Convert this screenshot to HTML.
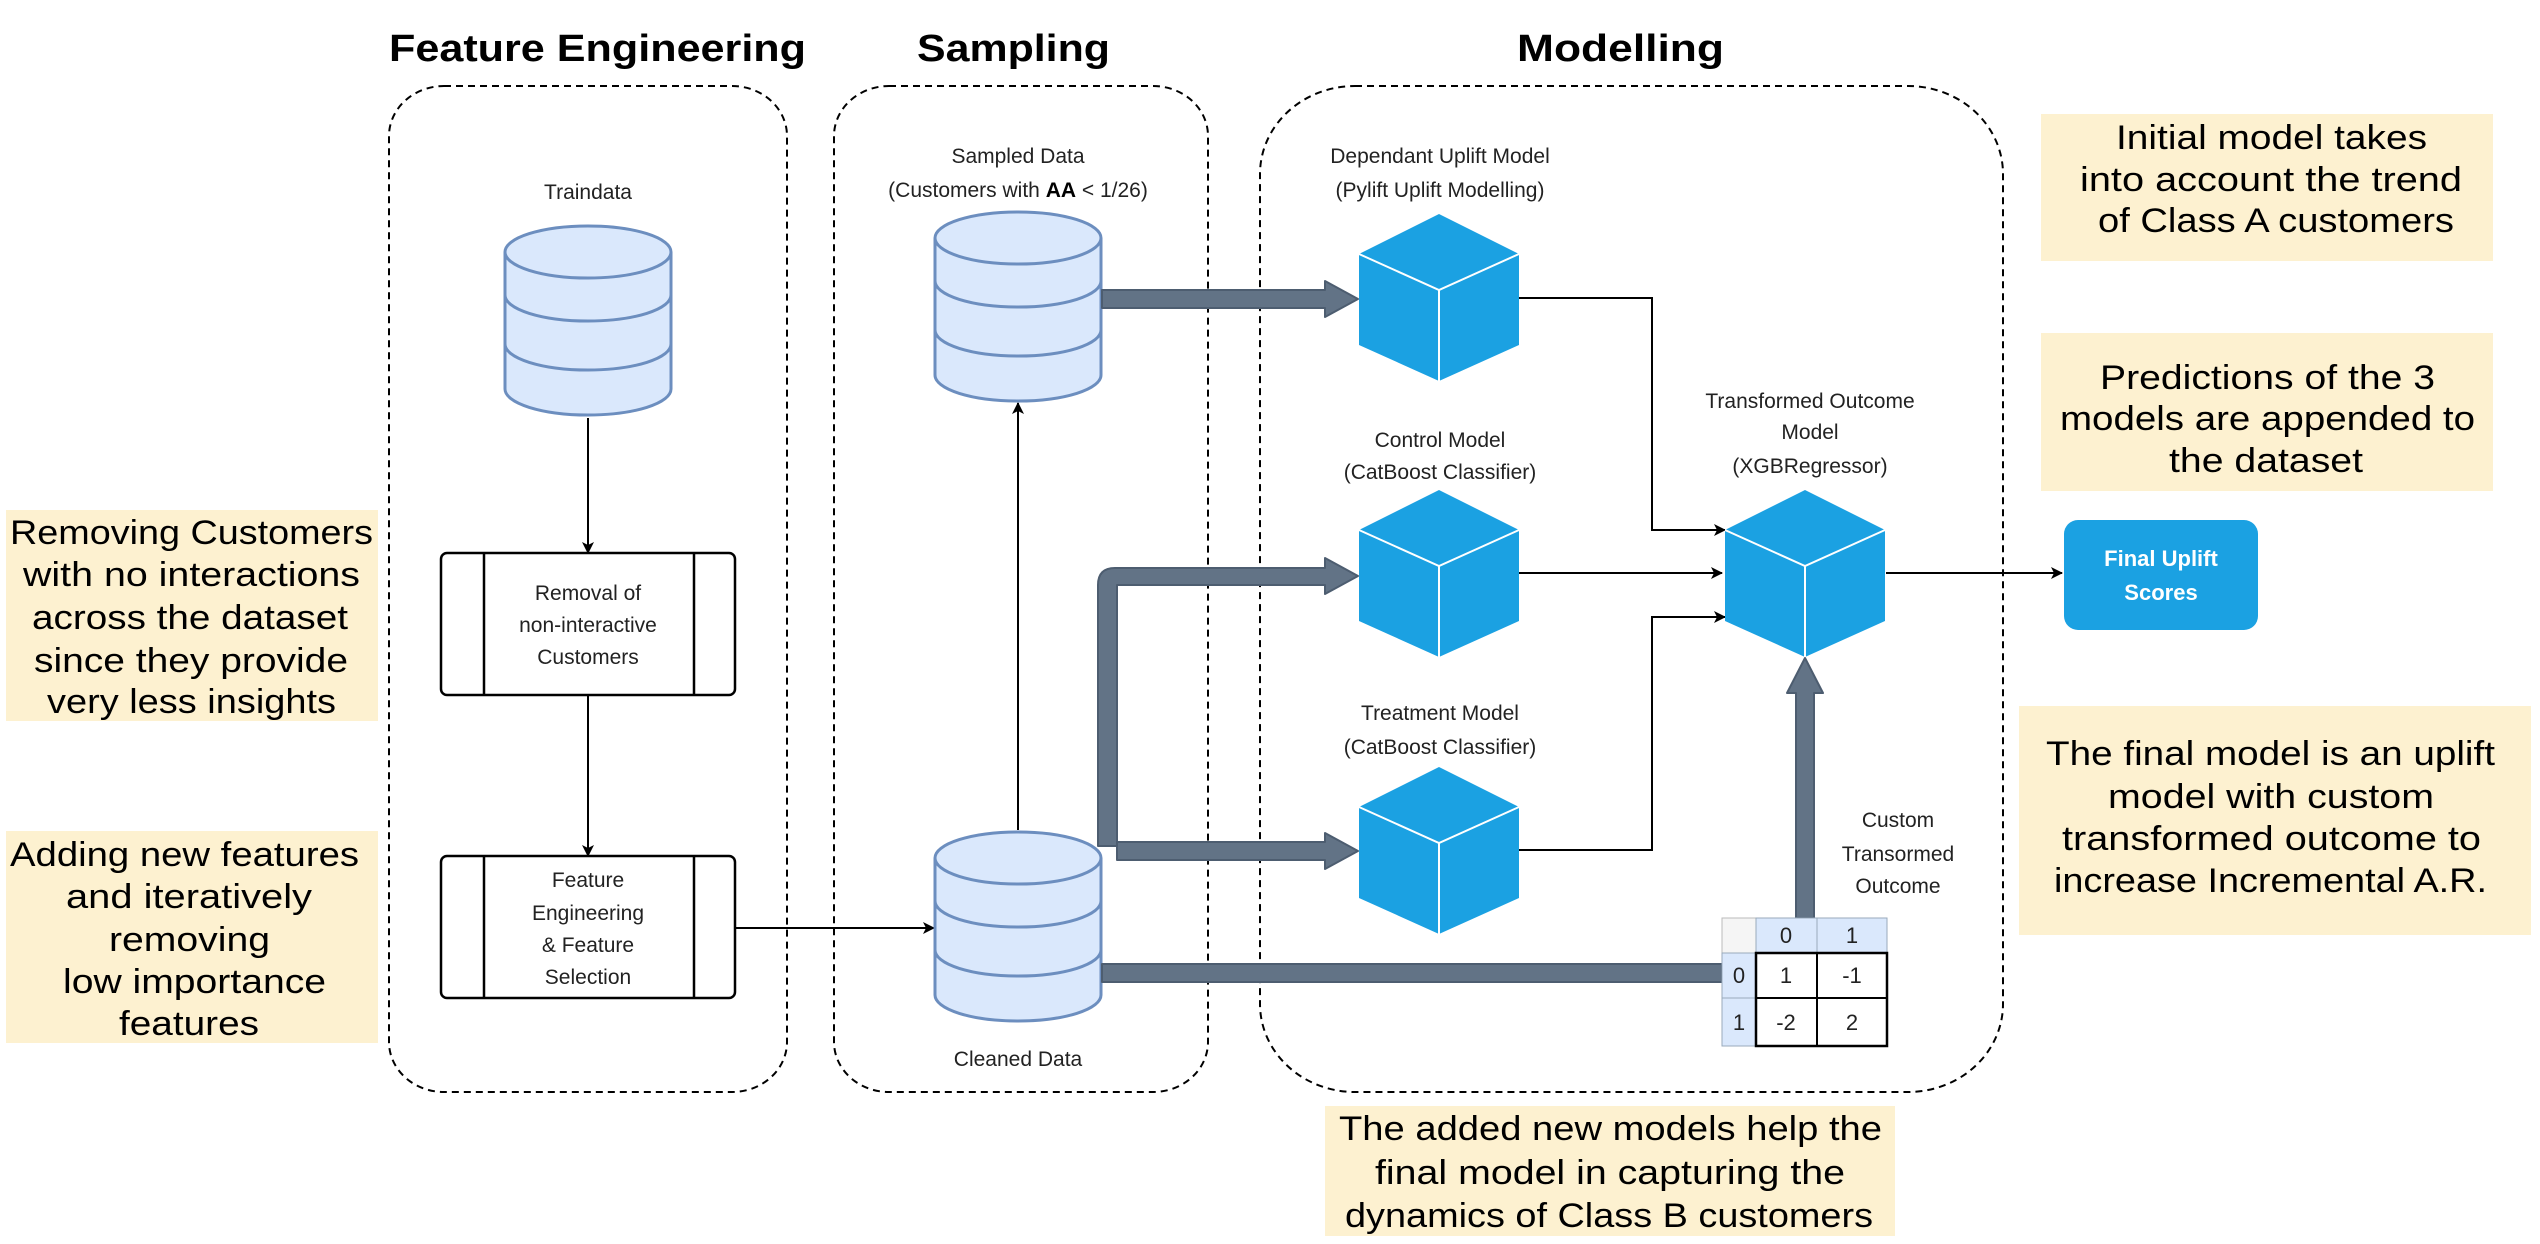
<!DOCTYPE html>
<html><head><meta charset="utf-8"><style>html,body{margin:0;padding:0;background:#fff}svg{display:block}</style></head>
<body>
<svg width="2540" height="1244" viewBox="0 0 2540 1244" xmlns="http://www.w3.org/2000/svg">
<defs>
<marker id="ah" markerWidth="12" markerHeight="12" refX="11" refY="6" orient="auto" markerUnits="userSpaceOnUse"><path d="M0,0 L12,6 L0,12 L3,6 Z" fill="#000"/></marker>
</defs>
<g font-family="Liberation Sans, Arial, sans-serif" font-weight="bold" font-size="38" fill="#000">
<text x="389" y="61" textLength="417" lengthAdjust="spacingAndGlyphs">Feature Engineering</text>
<text x="917" y="61" textLength="193" lengthAdjust="spacingAndGlyphs">Sampling</text>
<text x="1517" y="61" textLength="207" lengthAdjust="spacingAndGlyphs">Modelling</text>
</g>
<g fill="none" stroke="#000" stroke-width="2" stroke-dasharray="7 5">
<rect x="389" y="86" width="398" height="1006" rx="55" ry="50"/>
<rect x="834" y="86" width="374" height="1006" rx="55" ry="50"/>
<rect x="1260" y="86" width="743" height="1006" rx="95" ry="88"/>
</g>
<!-- yellow notes -->
<g fill="#fdf1d0">
<rect x="6" y="510" width="372" height="211"/>
<rect x="6" y="831" width="372" height="212"/>
<rect x="2041" y="114" width="452" height="147"/>
<rect x="2041" y="333" width="452" height="158"/>
<rect x="2019" y="706" width="512" height="229"/>
<rect x="1325" y="1106" width="570" height="130"/>
</g>
<g font-family="Liberation Sans, Arial, sans-serif" font-size="34" fill="#000" lengthAdjust="spacingAndGlyphs">
<text x="10" y="544" textLength="363" lengthAdjust="spacingAndGlyphs">Removing Customers</text>
<text x="23" y="586" textLength="337" lengthAdjust="spacingAndGlyphs">with no interactions</text>
<text x="32" y="629" textLength="316" lengthAdjust="spacingAndGlyphs">across the dataset</text>
<text x="34" y="672" textLength="314" lengthAdjust="spacingAndGlyphs">since they provide</text>
<text x="47" y="713" textLength="289" lengthAdjust="spacingAndGlyphs">very less insights</text>
<text x="10" y="866" textLength="349" lengthAdjust="spacingAndGlyphs">Adding new features</text>
<text x="66" y="908" textLength="246" lengthAdjust="spacingAndGlyphs">and iteratively</text>
<text x="109" y="951" textLength="161" lengthAdjust="spacingAndGlyphs">removing</text>
<text x="63" y="993" textLength="263" lengthAdjust="spacingAndGlyphs">low importance</text>
<text x="119" y="1035" textLength="140" lengthAdjust="spacingAndGlyphs">features</text>
<text x="2116" y="149" textLength="311" lengthAdjust="spacingAndGlyphs">Initial model takes</text>
<text x="2080" y="191" textLength="382" lengthAdjust="spacingAndGlyphs">into account the trend</text>
<text x="2098" y="232" textLength="356" lengthAdjust="spacingAndGlyphs">of Class A customers</text>
<text x="2100" y="389" textLength="335" lengthAdjust="spacingAndGlyphs">Predictions of the 3</text>
<text x="2060" y="430" textLength="415" lengthAdjust="spacingAndGlyphs">models are appended to</text>
<text x="2169" y="472" textLength="194" lengthAdjust="spacingAndGlyphs">the dataset</text>
<text x="2046" y="765" textLength="449" lengthAdjust="spacingAndGlyphs">The final model is an uplift</text>
<text x="2108" y="808" textLength="326" lengthAdjust="spacingAndGlyphs">model with custom</text>
<text x="2062" y="850" textLength="419" lengthAdjust="spacingAndGlyphs">transformed outcome to</text>
<text x="2054" y="892" textLength="433" lengthAdjust="spacingAndGlyphs">increase Incremental A.R.</text>
<text x="1339" y="1140" textLength="543" lengthAdjust="spacingAndGlyphs">The added new models help the</text>
<text x="1375" y="1184" textLength="470" lengthAdjust="spacingAndGlyphs">final model in capturing the</text>
<text x="1345" y="1227" textLength="528" lengthAdjust="spacingAndGlyphs">dynamics of Class B customers</text>
</g>
<!-- thin connectors -->
<g stroke="#000" stroke-width="2" fill="none" marker-end="url(#ah)">
<line x1="588" y1="418" x2="588" y2="553"/>
<line x1="588" y1="695" x2="588" y2="856"/>
<line x1="735" y1="928" x2="934" y2="928"/>
<line x1="1018" y1="830" x2="1018" y2="403"/>
<polyline points="1519,298 1652,298 1652,530 1725,530"/>
<line x1="1519" y1="573" x2="1722" y2="573"/>
<polyline points="1519,850 1652,850 1652,617 1725,617"/>
<line x1="1886" y1="573" x2="2062" y2="573"/>
</g>
<!-- cylinders -->
<g fill="#dae8fc" stroke="#6c8ebf" stroke-width="3">
<g id="cyl1">
<path d="M505,252 L505,389 A83,26 0 0 0 671,389 L671,252 A83,26 0 0 0 505,252 Z"/>
<path d="M505,252 A83,26 0 0 0 671,252" fill="none"/>
<path d="M505,295 A83,26 0 0 0 671,295" fill="none"/>
<path d="M505,344 A83,26 0 0 0 671,344" fill="none"/>
</g>
<g transform="translate(430,-14)">
<path d="M505,252 L505,389 A83,26 0 0 0 671,389 L671,252 A83,26 0 0 0 505,252 Z"/>
<path d="M505,252 A83,26 0 0 0 671,252" fill="none"/>
<path d="M505,295 A83,26 0 0 0 671,295" fill="none"/>
<path d="M505,344 A83,26 0 0 0 671,344" fill="none"/>
</g>
<g transform="translate(430,606)">
<path d="M505,252 L505,389 A83,26 0 0 0 671,389 L671,252 A83,26 0 0 0 505,252 Z"/>
<path d="M505,252 A83,26 0 0 0 671,252" fill="none"/>
<path d="M505,295 A83,26 0 0 0 671,295" fill="none"/>
<path d="M505,344 A83,26 0 0 0 671,344" fill="none"/>
</g>
</g>
<!-- process boxes -->
<g fill="#fff" stroke="#000" stroke-width="2.5">
<rect x="441" y="553" width="294" height="142" rx="6"/>
<line x1="484" y1="553" x2="484" y2="695"/><line x1="694" y1="553" x2="694" y2="695"/>
<rect x="441" y="856" width="294" height="142" rx="6"/>
<line x1="484" y1="856" x2="484" y2="998"/><line x1="694" y1="856" x2="694" y2="998"/>
</g>
<!-- thick arrows -->
<g fill="#627386" stroke="#4d5d70" stroke-width="2" stroke-linejoin="round">
<path d="M1102,290 L1325,290 L1325,281 L1358,299 L1325,317 L1325,308 L1102,308 Z"/>
<path d="M1102,846 L1098,846 L1098,585 Q1098,568 1115,568 L1325,568 L1325,558 L1358,576 L1325,594 L1325,585 L1117,585 L1117,846 L1102,846 Z"/>
<path d="M1117,842 L1325,842 L1325,833 L1358,851 L1325,869 L1325,860 L1117,860 Z"/>
<path d="M1102,964 L1722,964 L1722,982 L1102,982 Z"/>
<path d="M1796,918 L1796,693 L1787,693 L1805,658 L1823,693 L1814,693 L1814,918 Z"/>
</g>
<!-- cubes -->
<g id="cubes">
<g>
<path d="M1439,214 L1519,254 L1519,345 L1439,381 L1359,345 L1359,254 Z" fill="#1ba1e2"/>
<path d="M1359,254 L1439,290 L1519,254 M1439,290 L1439,381" stroke="#fff" stroke-width="2" fill="none"/>
</g>
<g transform="translate(0,276)">
<path d="M1439,214 L1519,254 L1519,345 L1439,381 L1359,345 L1359,254 Z" fill="#1ba1e2"/>
<path d="M1359,254 L1439,290 L1519,254 M1439,290 L1439,381" stroke="#fff" stroke-width="2" fill="none"/>
</g>
<g transform="translate(0,553)">
<path d="M1439,214 L1519,254 L1519,345 L1439,381 L1359,345 L1359,254 Z" fill="#1ba1e2"/>
<path d="M1359,254 L1439,290 L1519,254 M1439,290 L1439,381" stroke="#fff" stroke-width="2" fill="none"/>
</g>
<g transform="translate(366,276)">
<path d="M1439,214 L1519,254 L1519,345 L1439,381 L1359,345 L1359,254 Z" fill="#1ba1e2"/>
<path d="M1359,254 L1439,290 L1519,254 M1439,290 L1439,381" stroke="#fff" stroke-width="2" fill="none"/>
</g>
</g>
<!-- final uplift -->
<rect x="2064" y="520" width="194" height="110" rx="14" fill="#1ba1e2"/>
<g font-family="Liberation Sans, Arial, sans-serif" font-weight="bold" font-size="22" fill="#fff" text-anchor="middle">
<text x="2161" y="566">Final Uplift</text>
<text x="2161" y="600">Scores</text>
</g>
<!-- table -->
<g stroke="#000" stroke-width="2">
<rect x="1722" y="918" width="34" height="35" fill="#f5f5f5" stroke="#bbb" stroke-width="1"/>
<rect x="1756" y="918" width="131" height="35" fill="#dae8fc" stroke="#9ab" stroke-width="1"/>
<line x1="1817" y1="918" x2="1817" y2="953" stroke="#9ab" stroke-width="1"/>
<rect x="1722" y="953" width="34" height="93" fill="#dae8fc" stroke="#9ab" stroke-width="1"/>
<line x1="1722" y1="998" x2="1756" y2="998" stroke="#9ab" stroke-width="1"/>
<rect x="1756" y="953" width="131" height="93" fill="#fff" stroke-width="2.5"/>
<line x1="1817" y1="953" x2="1817" y2="1046"/>
<line x1="1756" y1="998" x2="1887" y2="998"/>
</g>
<g font-family="Liberation Sans, Arial, sans-serif" font-size="22" fill="#222" text-anchor="middle">
<text x="1786" y="943">0</text><text x="1852" y="943">1</text>
<text x="1739" y="983">0</text><text x="1786" y="983">1</text><text x="1852" y="983">-1</text>
<text x="1739" y="1030">1</text><text x="1786" y="1030">-2</text><text x="1852" y="1030">2</text>
</g>
<!-- labels -->
<g font-family="Liberation Sans, Arial, sans-serif" font-size="21" fill="#222" text-anchor="middle">
<text x="588" y="199">Traindata</text>
<text x="1018" y="163">Sampled Data</text>
<text x="1018" y="197">(Customers with <tspan font-weight="bold" fill="#000">AA</tspan> &lt; 1/26)</text>
<text x="1018" y="1066">Cleaned Data</text>
<text x="588" y="600">Removal of</text>
<text x="588" y="632">non-interactive</text>
<text x="588" y="664">Customers</text>
<text x="588" y="887">Feature</text>
<text x="588" y="920">Engineering</text>
<text x="588" y="952">&amp; Feature</text>
<text x="588" y="984">Selection</text>
<text x="1440" y="163">Dependant Uplift Model</text>
<text x="1440" y="197">(Pylift Uplift Modelling)</text>
<text x="1440" y="447">Control Model</text>
<text x="1440" y="479">(CatBoost Classifier)</text>
<text x="1440" y="720">Treatment Model</text>
<text x="1440" y="754">(CatBoost Classifier)</text>
<text x="1810" y="408">Transformed Outcome</text>
<text x="1810" y="439">Model</text>
<text x="1810" y="473">(XGBRegressor)</text>
<text x="1898" y="827">Custom</text>
<text x="1898" y="861">Transormed</text>
<text x="1898" y="893">Outcome</text>
</g>
</svg>
</body></html>
